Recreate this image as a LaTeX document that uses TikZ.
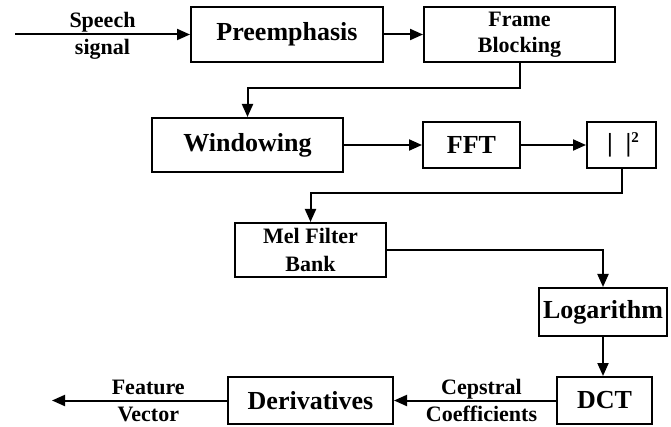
\documentclass[tikz,border=0pt]{standalone}
\usepackage{fontspec}
\setmainfont{Liberation Serif}
\usetikzlibrary{positioning,arrows.meta,calc}

\begin{document}
\begin{tikzpicture}[x=1pt, y=-1pt,
  blk/.style={draw, line width=2pt, align=center, inner sep=0pt, font=\fontsize{26}{28}\selectfont\bfseries},
  sblk/.style={blk, font=\fontsize{22}{26}\selectfont\bfseries},
  arr/.style={-{Triangle[length=13pt,width=11pt]}, line width=2pt},
  lbl/.style={align=center, inner sep=0pt, font=\fontsize{22}{27}\selectfont\bfseries}
]
\useasboundingbox (0,0) rectangle (671,427);

% blocks
\node[blk, minimum width=192pt, minimum height=55pt] (pre) at (287,34.5) {Preemphasis};
\node[sblk, minimum width=191pt, minimum height=55pt] (frame) at (519.5,34.5) {\raisebox{-3pt}{Frame}\\\raisebox{-3pt}{Blocking}};
\node[blk, minimum width=191pt, minimum height=54pt] (win) at (247.5,145) {Windowing};
\node[blk, minimum width=97pt, minimum height=46pt] (fft) at (471.5,145) {FFT};
\node[blk, minimum width=69pt, minimum height=46pt] (abs) at (621.5,145) {\hspace{3pt}|\hspace{13pt}|\raisebox{9pt}{\fontsize{15}{15}\selectfont 2}};
\node[sblk, minimum width=151pt, minimum height=54pt, font=\fontsize{22}{28}\selectfont\bfseries] (mel) at (310.5,250) {Mel Filter\\Bank};
\node[blk, minimum width=128pt, minimum height=48pt] (log) at (603,312) {Logarithm};
\node[blk, minimum width=95pt, minimum height=47pt] (dct) at (604.5,400.5) {DCT};
\node[blk, minimum width=165pt, minimum height=47pt] (der) at (310.5,400.5) {Derivatives};

% in and out
\coordinate (in) at (15,34.5);
\coordinate (out) at (52,400.5);

% connectors
\draw[arr] (in) -- node[lbl, pos=.5, yshift=-1pt] {Speech\\signal} (pre.west);
\draw[arr] (pre) -- (frame);
\draw[arr] (frame.south) -- ++(0,25) -| (win.north);
\draw[arr] (win) -- (fft);
\draw[arr] (fft) -- (abs);
\draw[arr] (abs.south) -- ++(0,24) -| (mel.north);
\draw[arr] (mel.east) -| (log.north);
\draw[arr] (log.south) -- (log.south |- dct.north);
\draw[arr] (dct) -- node[lbl, pos=.46, yshift=0pt] {Cepstral\\Coefficients} (der);
\draw[arr] (der.west) -- node[lbl, pos=.45, yshift=0pt] {Feature\\Vector} (out);
\end{tikzpicture}
\end{document}
